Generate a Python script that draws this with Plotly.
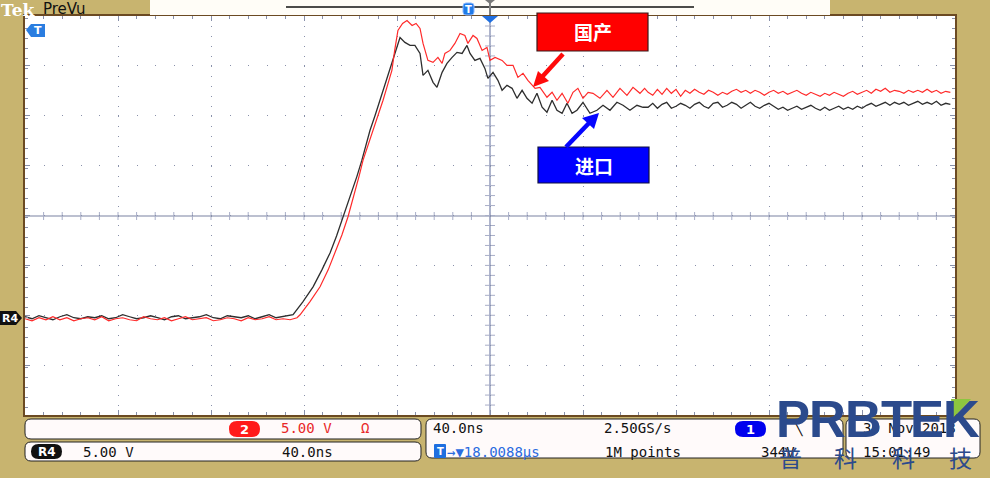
import plotly.graph_objects as go

W, H = 990, 478

# ---------------- data (time in ns, voltage in V, ground = R4 marker) ----------------
base_t = [-200, -197, -194, -191, -188, -185, -182, -179, -176, -173, -170, -167, -164,
          -161, -158, -155, -152, -149, -146, -143, -140, -137, -134, -131, -128, -125,
          -122, -119, -116, -113, -110, -107, -104, -101, -98, -95, -92, -89, -86]
black_base_v = [0.1, -0.1, 0.2, 0.0, -0.2, 0.1, 0.3, 0.0, -0.1, 0.1,
                0.0, 0.2, -0.1, 0.0, 0.3, 0.1, -0.1, 0.0, 0.2, 0.0,
                -0.2, 0.1, 0.2, -0.1, 0.0, 0.1, 0.3, 0.0, -0.1, 0.2,
                0.1, 0.0, 0.2, -0.1, 0.1, 0.3, 0.0, 0.1, 0.2]
red_base_v = [-0.1, -0.3, 0.0, -0.2, 0.1, -0.2, 0.0, -0.3, -0.1, 0.0,
              -0.2, 0.1, -0.3, -0.1, 0.0, -0.2, -0.3, 0.1, -0.1, -0.2,
              0.0, -0.3, -0.1, 0.1, -0.2, -0.1, 0.0, -0.3, -0.2, 0.0,
              -0.1, -0.3, 0.0, -0.2, -0.1, 0.1, -0.2, -0.1, -0.2]

black_edge_t = [-84.7, -80.5, -76.1, -72.3, -68.8, -66.0, -63.2, -61.2, -59.4, -57.2, -55.1,
                -53.3, -51.6, -49.4, -47.3, -45.8, -44.3, -43.0, -41.7, -40.0, -38.7, -36.6,
                -34.4, -32.3, -30.1, -28.8, -26.7, -24.5, -22.8, -20.6, -18.5, -16.3, -14.2,
                -12.0, -9.9, -8.6, -6.5, -4.3, -2.2, -0.9, 1.3, 3.4, 5.2, 7.3, 9.5, 11.6,
                13.8, 15.9, 18.1, 20.2, 22.4, 24.5, 26.7, 28.8, 31.0, 33.1, 35.3, 37.4, 40.0,
                43.0, 46.0, 48.6, 51.6, 54.6, 57.2, 60.2, 63.2, 65.8]
black_edge_v = [0.3, 1.6, 3.1, 4.8, 6.5, 8.2, 10.1, 11.3, 12.5, 14.2, 15.8,
                17.3, 18.8, 20.3, 21.8, 23.0, 24.1, 25.1, 25.8, 27.0, 28.1, 27.6,
                27.3, 27.3, 26.5, 24.3, 24.8, 23.6, 23.1, 24.6, 25.5, 26.1, 26.6,
                26.5, 27.3, 26.5, 25.8, 26.0, 25.0, 24.0, 24.6, 23.8, 22.8, 23.3, 23.0, 22.0,
                22.8, 22.0, 21.5, 22.5, 21.1, 20.6, 21.8, 20.8, 20.5, 21.5, 20.5, 20.8, 21.6,
                20.5, 20.8, 21.3, 20.8, 21.6, 21.3, 20.8, 21.3, 21.1]

red_edge_t = [-83.0, -81.7, -77.5, -73.1, -69.6, -66.7, -63.7, -61.1, -59.6, -58.1, -56.3,
              -54.6, -52.4, -50.3, -48.2, -46.0, -44.1, -42.2, -41.0, -39.6, -37.6, -35.7,
              -33.5, -31.8, -30.1, -28.8, -26.7, -24.5, -22.4, -20.6, -19.4, -17.2, -15.1,
              -12.9, -10.8, -9.5, -7.3, -5.6, -3.4, -1.3, 0.0, 2.2, 5.2, 7.3, 9.9, 12.0,
              14.2, 16.3, 19.4, 21.5, 24.5, 26.7, 28.8, 31.0, 33.5, 35.7, 37.8, 40.0, 42.2,
              44.3, 47.3, 50.3, 52.9, 55.9, 58.9, 61.5, 64.5, 66.5]
red_edge_v = [0.0, 0.3, 1.6, 3.1, 4.8, 6.5, 8.3, 10.1, 11.3, 12.5, 14.2,
              15.8, 17.3, 18.8, 20.3, 21.8, 23.3, 24.8, 26.8, 28.8, 29.5, 29.8,
              29.3, 29.5, 29.0, 27.5, 25.8, 25.6, 26.1, 25.5, 26.5, 26.8, 27.5,
              28.5, 28.3, 27.5, 28.3, 28.0, 26.8, 27.1, 25.8, 26.1, 25.8, 25.3, 25.3, 24.1,
              24.5, 23.8, 23.0, 23.1, 22.1, 22.6, 21.8, 22.5, 21.5, 22.6, 23.0, 22.0, 22.6,
              22.5, 22.0, 22.8, 22.1, 23.0, 22.3, 23.1, 22.5, 23.0]

tail_t = [68, 70, 72, 74, 76, 78, 80, 82, 84, 86, 88, 90, 92, 94, 96, 98, 100, 102, 104,
          106, 108, 110, 112, 114, 116, 118, 120, 122, 124, 126, 128, 130, 132, 134, 136,
          138, 140, 142, 144, 146, 148, 150, 152, 154, 156, 158, 160, 162, 164, 166, 168,
          170, 172, 174, 176, 178, 180, 182, 184, 186, 188, 190, 192, 194, 196, 198]
black_tail_v = [21.1, 21.5, 21.0, 21.4, 21.6, 21.0, 21.2, 21.5, 21.3, 21.0, 21.4, 21.6, 21.2,
                21.0, 21.5, 21.6, 21.1, 21.3, 21.6, 21.4, 21.0, 21.3, 21.6, 21.2, 21.0, 21.3,
                21.5, 21.2, 20.9, 21.1, 20.8, 21.0, 21.2, 20.9, 21.1, 21.3, 21.0, 20.8, 21.1,
                20.8, 21.0, 21.2, 20.9, 21.1, 20.9, 21.2, 21.0, 21.3, 21.5, 21.2, 21.4, 21.6,
                21.3, 21.6, 21.4, 21.6, 21.3, 21.5, 21.7, 21.4, 21.6, 21.4, 21.7, 21.3, 21.5, 21.4]
red_tail_v = [22.6, 22.3, 22.9, 22.4, 23.0, 22.5, 22.9, 22.2, 22.8, 22.5, 22.9, 22.6, 22.4,
              22.8, 22.6, 22.3, 22.6, 22.4, 22.7, 22.9, 22.6, 22.8, 22.5, 22.8, 22.6, 22.3,
              22.6, 22.8, 22.5, 22.7, 22.4, 22.6, 22.8, 22.5, 22.3, 22.6, 22.4, 22.2, 22.5,
              22.3, 22.6, 22.4, 22.2, 22.5, 22.7, 22.4, 22.6, 22.8, 22.5, 22.9, 22.7, 23.0,
              22.6, 22.8, 22.7, 22.5, 22.8, 22.6, 22.8, 22.6, 22.9, 22.6, 22.8, 22.5, 22.7, 22.6]

label_red = "国产"
label_blue = "进口"

# ---------------- geometry helpers (pixel -> paper) ----------------
PX0, PX1, PY0, PY1 = 25, 955, 16, 415


def fx(x):
    return x / W


def fy(y):
    return 1 - y / H


shapes = []
annos = []


def rect(x0, y0, x1, y1, fill=None, line=None, lw=1, layer="above"):
    shapes.append(dict(type="rect", xref="paper", yref="paper", layer=layer,
                       x0=fx(x0), x1=fx(x1), y0=fy(y1), y1=fy(y0),
                       fillcolor=fill if fill else "rgba(0,0,0,0)",
                       line=dict(color=line if line else "rgba(0,0,0,0)", width=lw if line else 0)))


def seg(x0, y0, x1, y1, color, lw=1, layer="above", dash="solid"):
    shapes.append(dict(type="line", xref="paper", yref="paper", layer=layer,
                       x0=fx(x0), x1=fx(x1), y0=fy(y0), y1=fy(y1),
                       line=dict(color=color, width=lw, dash=dash)))


def poly(pts, fill, line=None, lw=0):
    d = "M " + " L ".join(f"{fx(x):.5f},{fy(y):.5f}" for x, y in pts) + " Z"
    shapes.append(dict(type="path", xref="paper", yref="paper", layer="above", path=d,
                       fillcolor=fill,
                       line=dict(color=line if line else "rgba(0,0,0,0)", width=lw)))


def rrect(x0, y0, x1, y1, r, fill, line=None, lw=1):
    def p(x, y):
        return f"{fx(x):.5f},{fy(y):.5f}"
    d = (f"M {p(x0 + r, y0)} L {p(x1 - r, y0)} Q {p(x1, y0)} {p(x1, y0 + r)} "
         f"L {p(x1, y1 - r)} Q {p(x1, y1)} {p(x1 - r, y1)} L {p(x0 + r, y1)} "
         f"Q {p(x0, y1)} {p(x0, y1 - r)} L {p(x0, y0 + r)} Q {p(x0, y0)} {p(x0 + r, y0)} Z")
    shapes.append(dict(type="path", xref="paper", yref="paper", layer="above", path=d,
                       fillcolor=fill,
                       line=dict(color=line if line else "rgba(0,0,0,0)", width=lw if line else 0)))


def text(x, y, s, size=14, color="#111", family="DejaVu Sans Mono", anchor="left", bold=False):
    if bold:
        s = f"<b>{s}</b>"
    annos.append(dict(xref="paper", yref="paper", x=fx(x), y=fy(y), text=s, showarrow=False,
                      xanchor=anchor, yanchor="middle", borderpad=0,
                      font=dict(size=size, color=color, family=family)))


# ---------------- figure ----------------
fig = go.Figure()
fig.add_trace(go.Scatter(x=base_t + black_edge_t + tail_t,
                         y=black_base_v + black_edge_v + black_tail_v,
                         mode="lines", line=dict(color="#2e2e2e", width=1.3), name="进口"))
fig.add_trace(go.Scatter(x=base_t + red_edge_t + tail_t,
                         y=red_base_v + red_edge_v + red_tail_v,
                         mode="lines", line=dict(color="#ff2a2a", width=1.2), name="国产"))

# centre crosshair with small tick marks
grid_c = "#8890aa"
seg(490, PY0, 490, PY1, "#9aa2c0", lw=1.6, layer="below")
seg(PX0, 216, PX1, 216, "#7a82a2", lw=1.2, layer="below")
y = PY0 + 10
while y < PY1 - 2:
    seg(485, y, 495, y, "#a8aec8", lw=1, layer="below")
    y += 9.975
x = PX0 + 18.6
while x < PX1 - 2:
    seg(x, 212, x, 220, "#a8aec8", lw=1, layer="below")
    x += 18.6

# plot frame
rect(PX0 - 1, PY0 - 1, PX1 + 1, PY1 + 1, line="#6b4a22", lw=2)

# top record bar
rect(150, 0, 830, 15, fill="#fffdf7")
seg(286, 7, 694, 7, "#111111", lw=1.5)
rrect(463, 3, 474, 15, 3, "#1f7be8", line="#8ab8ff", lw=1)
text(468.5, 9.5, "T", size=10, color="white", family="DejaVu Sans", anchor="center", bold=True)
seg(490, 0, 490, 15, "#808080", lw=2)
poly([(485, 0), (495, 0), (490, 4)], "#7a7a7a")
poly([(482, 16), (498, 16), (490, 23)], "#1f6fe0")

# Tek PreVu
text(0, 10, "Tek", size=17, color="white", family="DejaVu Serif", bold=True)
text(42, 9, "PreVu", size=15, color="#111", family="DejaVu Sans")

# trigger level marker (left)
poly([(26, 30), (31, 24), (45, 24), (45, 37), (31, 37)], "#2a7de0")
text(38, 30.5, "T", size=11, color="white", family="DejaVu Sans", anchor="center", bold=True)

# R4 marker
poly([(0, 311), (16, 311), (22, 318), (16, 325), (0, 325)], "#111111")
text(1, 318, "R4", size=11, color="white", family="DejaVu Sans", bold=True)

# labels with arrows
rect(537, 13, 648, 51, fill="#ff0000", line="#3a1a1a", lw=1.2)
text(592.5, 32, label_red, size=19, color="white", family="Noto Sans CJK SC", anchor="center", bold=True)
seg(563, 54, 542, 77, "#ff0a0a", lw=4.5)
poly([(533, 87), (538, 71), (549, 81)], "#ff0a0a")
rect(538, 147, 649, 183, fill="#0000ff", line="#101040", lw=1.2)
text(593.5, 165, label_blue, size=19, color="white", family="Noto Sans CJK SC", anchor="center", bold=True)
seg(566, 147, 590, 122, "#0505ff", lw=4.5)
poly([(599, 113), (594, 129), (582, 118)], "#0505ff")

# status boxes
rrect(25, 419, 421, 439, 6, "#fffafa", line="#222", lw=1)
rrect(25, 442, 421, 461, 6, "#fffafa", line="#222", lw=1)
rrect(426, 419, 843, 458, 6, "#fffafa", line="#222", lw=1)
rrect(846, 419, 980, 458, 6, "#fffafa", line="#222", lw=1)

rrect(229, 421, 260, 437, 8, "#ff1a1a")
text(244.5, 429, "2", size=13, color="white", family="DejaVu Sans", anchor="center", bold=True)
text(280, 428, "5.00 V", color="#e82828")
text(360, 428, "Ω", color="#e82828")

rrect(31, 444, 62, 459, 7.5, "#111111")
text(46.5, 451.5, "R4", size=12, color="white", family="DejaVu Sans", anchor="center", bold=True)
text(82, 451.5, "5.00 V", color="#111")
text(281, 451.5, "40.0ns", color="#111")

text(432, 428, "40.0ns", color="#111")
text(603, 428, "2.50GS/s", color="#111")
rrect(434, 444, 446, 458, 1, "#1e6fe0")
text(440, 451, "T", size=10, color="white", family="DejaVu Sans", anchor="center", bold=True)
text(446, 451.5, "→▼18.0088µs", color="#2a6be0")
text(604, 451.5, "1M points", color="#111")
rrect(735, 421, 766, 437, 8, "#0000ee")
text(750.5, 429, "1", size=13, color="white", family="DejaVu Sans", anchor="center", bold=True)
text(792, 428, "╲", color="#111")
text(760, 451.5, "344V", color="#111")
text(862, 428, "30 Nov 2018", color="#111")
text(862, 451.5, "15:01:49", color="#111")

# PRBTEK logo
logo_c = "#2b4a8c"
for cx, ch in zip([793, 827, 863, 896, 927, 961], "PRBTEK"):
    text(cx, 419, ch, size=51, color=logo_c, family="Liberation Sans", anchor="center", bold=True)
poly([(951, 399), (971, 399), (953, 418)], "#8cc63f")
for cx, ch in zip([790, 845, 903, 960], "普科科技"):
    text(cx, 457, ch, size=23, color=logo_c, family="Noto Sans CJK SC", anchor="center")

fig.update_layout(
    width=W, height=H,
    margin=dict(l=0, r=0, t=0, b=0),
    paper_bgcolor="#c8b46f",
    plot_bgcolor="white",
    showlegend=False,
    shapes=shapes,
    annotations=annos,
    xaxis=dict(domain=[PX0 / W, PX1 / W], range=[-200, 200], dtick=40, tick0=0,
               showgrid=True, gridcolor=grid_c, gridwidth=1, griddash="1px,8.975px",
               zeroline=False, showticklabels=False, ticks="inside", ticklen=5,
               tickcolor=grid_c, mirror="ticks", showline=False,
               minor=dict(dtick=8, ticks="inside", ticklen=3, tickcolor=grid_c, showgrid=False)),
    yaxis=dict(domain=[1 - PY1 / H, 1 - PY0 / H], range=[-9.75, 30.25], dtick=5, tick0=0.25,
               showgrid=True, gridcolor=grid_c, gridwidth=1, griddash="1px,17.6px",
               zeroline=False, showticklabels=False, ticks="inside", ticklen=5,
               tickcolor=grid_c, mirror="ticks", showline=False,
               minor=dict(dtick=1, ticks="inside", ticklen=3, tickcolor=grid_c, showgrid=False)),
)

fig.write_html("out.html", config={"displayModeBar": False},
               post_script="document.body.style.margin='0px';document.body.style.overflow='hidden';")
